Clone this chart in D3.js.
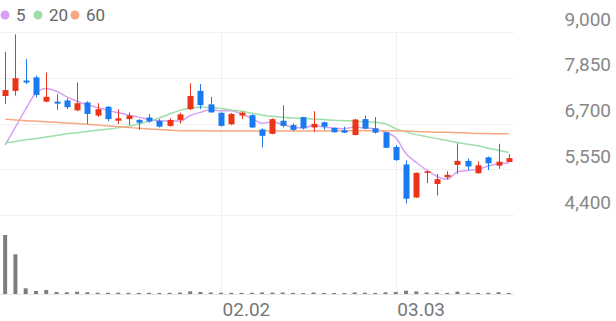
<!DOCTYPE html>
<html>
<head>
<meta charset="utf-8">
<script src="https://cdn.jsdelivr.net/npm/d3@7"></script>
<style>
  body { margin: 0; background: #fff; }
  svg { display: block; font-family: Roboto, "Noto Sans", sans-serif; }
</style>
</head>
<body>
<div id="chart"></div>
<script>
// trading days, Jan 2 - Mar 18
const dates = [
  '01.02', '01.05', '01.06', '01.07', '01.08', '01.09', '01.12', '01.13', '01.14', '01.15',
  '01.16', '01.19', '01.20', '01.21', '01.22', '01.23', '01.26', '01.27', '01.28', '01.29',
  '01.30', '02.02', '02.03', '02.04', '02.05', '02.06', '02.09', '02.10', '02.11', '02.12',
  '02.13', '02.19', '02.20', '02.23', '02.24', '02.25', '02.26', '02.27', '03.03', '03.04',
  '03.05', '03.06', '03.09', '03.10', '03.11', '03.12', '03.13', '03.16', '03.17', '03.18'
];
const open = [
  7390, 7520, 7780, 7860, 7250, 7250, 7280, 7030, 7230, 6900,
  7120, 6770, 6810, 6790, 6850, 6770, 6640, 6790, 7060, 7520,
  7180, 6970, 6680, 6900, 6910, 6550, 6440, 6770, 6660, 6860,
  6600, 6730, 6590, 6530, 6410, 6810, 6580, 6480, 6110, 5670,
  4840, 5460, 5180, 5350, 5660, 5760, 5450, 5850, 5640, 5730
];
const high = [
  8500, 8940, 8320, 7900, 7980, 7440, 7330, 7730, 7260, 7210,
  7140, 7060, 6980, 6810, 6940, 6810, 6830, 6970, 7710, 7690,
  7370, 6980, 6960, 7000, 6930, 6580, 6830, 7160, 6700, 6870,
  7010, 6750, 6600, 6620, 6820, 6900, 6860, 6490, 6160, 5770,
  5470, 5510, 5430, 5500, 6200, 5820, 5750, 5870, 6190, 5930
];
const low = [
  7190, 7400, 7690, 7360, 7230, 7040, 7060, 7010, 6690, 6870,
  6760, 6690, 6660, 6540, 6720, 6600, 6620, 6700, 7040, 7060,
  6970, 6620, 6660, 6810, 6590, 6100, 6430, 6600, 6510, 6550,
  6490, 6540, 6470, 6460, 6400, 6550, 6450, 6080, 5760, 4690,
  4830, 5200, 4890, 5300, 5430, 5530, 5440, 5530, 5560, 5730
];
const close = [
  7540, 7840, 7730, 7420, 7370, 7200, 7110, 7210, 6940, 7060,
  6810, 6830, 6900, 6720, 6750, 6620, 6790, 6930, 7390, 7160,
  6980, 6640, 6940, 6970, 6600, 6390, 6810, 6640, 6540, 6580,
  6690, 6620, 6480, 6470, 6800, 6570, 6470, 6090, 5780, 4810,
  5460, 5500, 5300, 5410, 5760, 5620, 5650, 5700, 5740, 5830
];
const volume = [
  5900000, 3970000, 570000, 300000, 400000, 200000, 170000, 230000, 170000, 130000,
  120000, 130000, 120000, 110000, 120000, 110000, 120000, 140000, 270000, 200000,
  150000, 130000, 120000, 110000, 120000, 160000, 140000, 150000, 110000, 100000,
  150000, 110000, 100000, 100000, 160000, 130000, 110000, 170000, 200000, 330000,
  260000, 150000, 140000, 110000, 230000, 130000, 110000, 120000, 180000, 100000
];
const ma5 = [
  6160, 6610, 7060, 7470, 7580, 7510, 7370, 7260, 7170, 7100,
  7030, 6970, 6910, 6860, 6800, 6760, 6760, 6760, 6900, 6980,
  7050, 7020, 7020, 6940, 6830, 6710, 6740, 6680, 6600, 6590,
  6650, 6610, 6580, 6570, 6610, 6590, 6560, 6480, 6340, 5940,
  5720, 5530, 5370, 5300, 5490, 5520, 5550, 5630, 5690, 5710
];
const ma20 = [
  6210, 6250, 6290, 6320, 6360, 6400, 6440, 6470, 6500, 6530,
  6560, 6590, 6630, 6690, 6760, 6840, 6940, 7030, 7090, 7110,
  7100, 7080, 7040, 7010, 6960, 6910, 6880, 6860, 6840, 6830,
  6810, 6800, 6780, 6770, 6760, 6740, 6730, 6690, 6570, 6490,
  6420, 6370, 6320, 6270, 6220, 6180, 6140, 6080, 6030, 5970
];
const ma60 = [
  6810, 6790, 6770, 6760, 6740, 6730, 6710, 6700, 6680, 6660,
  6640, 6620, 6600, 6580, 6560, 6550, 6530, 6520, 6520, 6520,
  6510, 6510, 6510, 6510, 6510, 6510, 6510, 6510, 6510, 6510,
  6510, 6510, 6520, 6520, 6520, 6520, 6520, 6520, 6520, 6510,
  6500, 6490, 6480, 6480, 6470, 6460, 6450, 6450, 6440, 6440
];
const priceTicks = [4400, 5550, 6700, 7850, 9000];
const dateTicks = ['02.02', '03.03'];
const maNames = ['5', '20', '60'];

const width = 616;
const height = 321;
const plotRight = 514;
const upColor = '#ec3418';
const downColor = '#1a7af0';
const maColors = ['#d8a0f2', '#9edfa9', '#f8a982'];

const svg = d3.select('#chart')
  .append('svg')
  .attr('width', width)
  .attr('height', height);

const x = d3.scalePoint().domain(dates).range([0, plotRight]).padding(0.5);
const y = d3.scaleLinear().domain([4400, 9000]).range([215, 32]);
const yVol = d3.scaleLinear().domain([0, d3.max(volume)]).range([294, 235]);

// grid
svg.append('g')
  .selectAll('line')
  .data(priceTicks)
  .enter()
  .append('line')
  .attr('x1', 0)
  .attr('x2', plotRight)
  .attr('y1', (d) => Math.round(y(d)) + 0.5)
  .attr('y2', (d) => Math.round(y(d)) + 0.5)
  .attr('stroke', '#f1f1f1');

svg.append('g')
  .selectAll('line')
  .data(dateTicks)
  .enter()
  .append('line')
  .attr('x1', (d) => Math.round(x(d)) + 0.5)
  .attr('x2', (d) => Math.round(x(d)) + 0.5)
  .attr('y1', y(9000))
  .attr('y2', yVol(0))
  .attr('stroke', '#f1f1f1');

// volume
svg.append('g')
  .selectAll('rect')
  .data(volume)
  .enter()
  .append('rect')
  .attr('x', (d, i) => x(dates[i]) - 2)
  .attr('width', 4)
  .attr('y', (d) => yVol(d))
  .attr('height', (d) => yVol(0) - yVol(d))
  .attr('fill', '#7d7d7d');

svg.append('line')
  .attr('x1', 0)
  .attr('x2', plotRight)
  .attr('y1', yVol(0) + 0.5)
  .attr('y2', yVol(0) + 0.5)
  .attr('stroke', '#e6e6e6');

// moving averages
const line = d3.line()
  .x((d, i) => x(dates[i]))
  .y((d) => y(d))
  .curve(d3.curveMonotoneX);

[ma5, ma20, ma60].forEach((series, k) => {
  svg.append('path')
    .datum(series)
    .attr('d', line)
    .attr('fill', 'none')
    .attr('stroke', maColors[k])
    .attr('stroke-width', 1.5);
});

// candles
const candles = svg.append('g')
  .selectAll('g')
  .data(dates)
  .enter()
  .append('g');

candles.append('line')
  .attr('x1', (d) => Math.round(x(d)) + 0.5)
  .attr('x2', (d) => Math.round(x(d)) + 0.5)
  .attr('y1', (d, i) => y(high[i]))
  .attr('y2', (d, i) => y(low[i]))
  .attr('stroke', (d, i) => (close[i] >= open[i] ? upColor : downColor))
  .attr('stroke-width', 1);

candles.append('rect')
  .attr('x', (d) => Math.round(x(d)) - 2.5)
  .attr('width', 6)
  .attr('y', (d, i) => y(Math.max(open[i], close[i])))
  .attr('height', (d, i) => Math.max(1.5, Math.abs(y(open[i]) - y(close[i]))))
  .attr('fill', (d, i) => (close[i] >= open[i] ? upColor : downColor));

// axes
const yAxis = svg.append('g')
  .attr('transform', `translate(611,0)`)
  .call(d3.axisLeft(y).tickValues(priceTicks).tickSize(0).tickPadding(0).tickFormat(d3.format(',')));
yAxis.select('.domain').remove();
yAxis.selectAll('text')
  .attr('dy', null)
  .attr('y', -7)
  .attr('fill', '#888')
  .style('font-size', '19px')
  .style('font-family', 'Roboto, sans-serif');

const xAxis = svg.append('g')
  .attr('transform', `translate(0,${yVol(0)})`)
  .call(d3.axisBottom(x).tickValues(dateTicks).tickSize(0));
xAxis.select('.domain').remove();
xAxis.selectAll('text')
  .attr('dy', null)
  .attr('y', 22)
  .attr('x', 1)
  .attr('text-anchor', 'start')
  .attr('fill', '#777')
  .style('font-size', '19px')
  .style('font-family', 'Roboto, sans-serif');

// legend
const legend = svg.append('g').attr('transform', 'translate(5,15)');
const legendX = [0, 33, 70];
maNames.forEach((name, k) => {
  legend.append('circle')
    .attr('cx', legendX[k])
    .attr('cy', 0)
    .attr('r', 4.5)
    .attr('fill', maColors[k]);
  legend.append('text')
    .attr('x', legendX[k] + 11)
    .attr('y', 6)
    .attr('fill', '#666')
    .style('font-size', '17px')
    .text(name);
});
</script>
</body>
</html>
